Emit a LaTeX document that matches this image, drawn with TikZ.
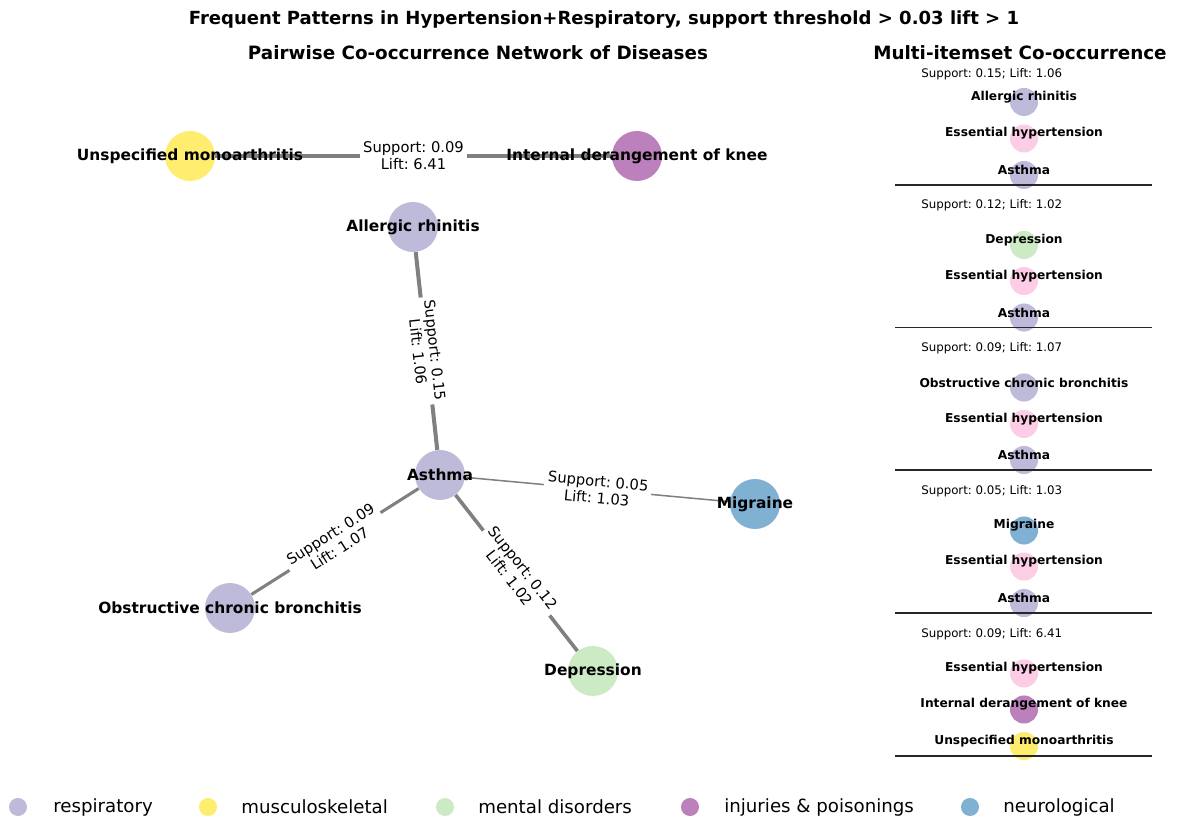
\documentclass[tikz,border=0pt]{standalone}
\usepackage{fontspec}
\setmainfont{DejaVu Sans}
\usepackage{xcolor}
\usetikzlibrary{backgrounds}
\definecolor{resp}{HTML}{BEBADA}
\definecolor{musc}{HTML}{FFED6F}
\definecolor{ment}{HTML}{CCEBC5}
\definecolor{inj}{HTML}{BC80BD}
\definecolor{neur}{HTML}{80B1D3}
\definecolor{hyp}{HTML}{FCCDE5}
\definecolor{edgegray}{HTML}{808080}
\frenchspacing
\tikzset{
  dis/.style={circle,fill=#1,minimum size=36pt,inner sep=0pt},
  disname/.style={font=\bfseries\fontsize{11.1}{12}\selectfont,inner sep=0pt},
  mdis/.style={circle,fill=#1,minimum size=20.2pt,inner sep=0pt},
  mname/.style={font=\bfseries\fontsize{8.8}{10}\selectfont,inner sep=0pt,yshift=3.6pt},
  assoc/.style={draw=edgegray},
  elabel/.style={sloped,fill=white,align=center,inner sep=2.5pt,font=\fontsize{10.6}{12.2}\selectfont},
  stat/.style={anchor=west,inner sep=0pt,font=\fontsize{8.5}{10}\selectfont},
  sepline/.style={draw=black!85,line width=0.75pt},
  legdot/.style={circle,fill=#1,minimum size=13pt,inner sep=0pt},
  legtext/.style={anchor=west,inner sep=0pt,font=\fontsize{13.1}{15}\selectfont}
}

\begin{document}
\begin{tikzpicture}[x=0.72pt,y=-0.72pt]
\useasboundingbox (0,0) rectangle (1177,821);

\node[font=\bfseries\fontsize{13}{15}\selectfont] (title) at (604,20) {Frequent Patterns in Hypertension+Respiratory, support threshold > 0.03 lift > 1};
\node[font=\bfseries\fontsize{13.2}{15}\selectfont] (nettitle) at (478,53) {Pairwise Co-occurrence Network of Diseases};
\node[font=\bfseries\fontsize{13.2}{15}\selectfont] (multititle) at (1020,53) {Multi-itemset Co-occurrence};

\node[dis=musc,label={[disname]center:Unspecified monoarthritis}] (monoarth) at (190,156) {};
\node[dis=inj,label={[disname]center:Internal derangement of knee}] (knee) at (637,156) {};
\node[dis=resp,label={[disname]center:Allergic rhinitis}] (rhinitis) at (413,227) {};
\node[dis=resp,label={[disname]center:Asthma}] (asthma) at (440,475) {};
\node[dis=neur,label={[disname]center:Migraine}] (migraine) at (755,504) {};
\node[dis=resp,label={[disname]center:Obstructive chronic bronchitis}] (bronchitis) at (230,608) {};
\node[dis=ment,label={[disname]center:Depression}] (depression) at (593,671) {};

\begin{scope}[on background layer]
\draw[assoc,line width=2.2pt] (monoarth) -- node[elabel]{Support: 0.09\\Lift: 6.41} (knee);
\draw[assoc,line width=2.9pt] (rhinitis) -- node[elabel]{Support: 0.15\\Lift: 1.06} (asthma);
\draw[assoc,line width=1.1pt] (asthma) -- node[elabel]{Support: 0.05\\Lift: 1.03} (migraine);
\draw[assoc,line width=2.2pt] (bronchitis) -- node[elabel]{Support: 0.09\\Lift: 1.07} (asthma);
\draw[assoc,line width=2.6pt] (asthma) -- node[elabel]{Support: 0.12\\Lift: 1.02} (depression);
\end{scope}

\node[stat] (s1) at (921,74) {Support: 0.15; Lift: 1.06};
\node[mdis=resp,label={[mname]center:Allergic rhinitis}] (g1a) at (1024,102) {};
\node[mdis=hyp,label={[mname]center:Essential hypertension}] (g1b) at (1024,138.5) {};
\node[mdis=resp,label={[mname]center:Asthma}] (g1c) at (1024,175) {};
\draw[sepline] (895,185) -- (1152,185);

\node[stat] (s2) at (921,205.5) {Support: 0.12; Lift: 1.02};
\node[mdis=ment,label={[mname]center:Depression}] (g2a) at (1024,245) {};
\node[mdis=hyp,label={[mname]center:Essential hypertension}] (g2b) at (1024,281) {};
\node[mdis=resp,label={[mname]center:Asthma}] (g2c) at (1024,317.5) {};
\draw[sepline] (895,327.5) -- (1152,327.5);

\node[stat] (s3) at (921,348) {Support: 0.09; Lift: 1.07};
\node[mdis=resp,label={[mname]center:Obstructive chronic bronchitis}] (g3a) at (1024,387.5) {};
\node[mdis=hyp,label={[mname]center:Essential hypertension}] (g3b) at (1024,424) {};
\node[mdis=resp,label={[mname]center:Asthma}] (g3c) at (1024,460) {};
\draw[sepline] (895,470) -- (1152,470);

\node[stat] (s4) at (921,491) {Support: 0.05; Lift: 1.03};
\node[mdis=neur,label={[mname]center:Migraine}] (g4a) at (1024,530.5) {};
\node[mdis=hyp,label={[mname]center:Essential hypertension}] (g4b) at (1024,566.5) {};
\node[mdis=resp,label={[mname]center:Asthma}] (g4c) at (1024,603) {};
\draw[sepline] (895,613) -- (1152,613);

\node[stat] (s5) at (921,634) {Support: 0.09; Lift: 6.41};
\node[mdis=hyp,label={[mname]center:Essential hypertension}] (g5a) at (1024,673.5) {};
\node[mdis=inj,label={[mname]center:Internal derangement of knee}] (g5b) at (1024,709.5) {};
\node[mdis=musc,label={[mname]center:Unspecified monoarthritis}] (g5c) at (1024,746) {};
\draw[sepline] (895,756) -- (1152,756);

\node[legdot=resp] (l1) at (18,807) {};
\node[legtext] (t1) at (53,807) {respiratory};
\node[legdot=musc] (l2) at (208,807) {};
\node[legtext] (t2) at (241,807) {musculoskeletal};
\node[legdot=ment] (l3) at (445,807) {};
\node[legtext] (t3) at (478,807) {mental disorders};
\node[legdot=inj] (l4) at (690,807) {};
\node[legtext] (t4) at (724,807) {injuries \& poisonings};
\node[legdot=neur] (l5) at (970,807) {};
\node[legtext] (t5) at (1003,807) {neurological};
\end{tikzpicture}
\end{document}
